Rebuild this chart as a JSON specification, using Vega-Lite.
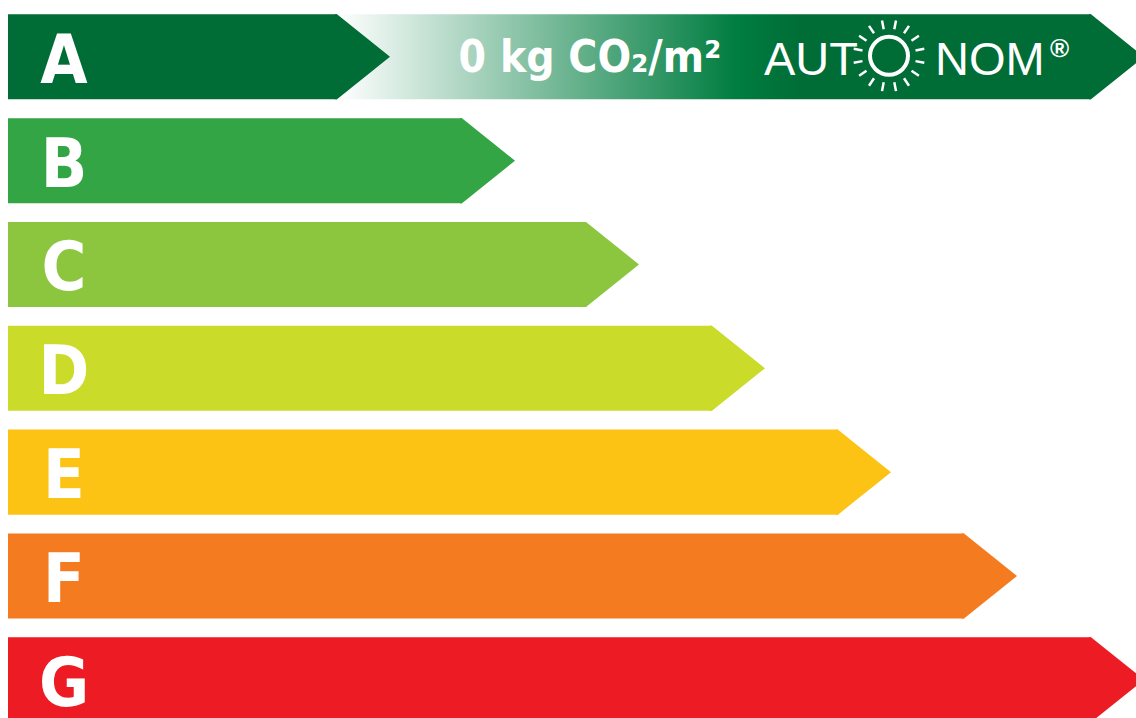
{
  "$schema": "https://vega.github.io/schema/vega-lite/v6.json",
  "width": 1136,
  "height": 718,
  "autosize": {"type": "none"},
  "padding": 0,
  "background": "white",
  "config": {"view": {"stroke": null}, "axis": {"disable": true}},
  "datasets": {
    "classes": [
      {"class": "A", "end": 329},
      {"class": "B", "end": 454},
      {"class": "C", "end": 578},
      {"class": "D", "end": 704},
      {"class": "E", "end": 830},
      {"class": "F", "end": 956},
      {"class": "G", "end": 1083}
    ],
    "autonom": [
      {"class": "A", "from": 329, "to": 1083, "co2": "0 kg CO₂/m²", "left": "AUT", "right": "NOM", "reg": "®"}
    ]
  },
  "encoding": {
    "y": {
      "field": "class",
      "type": "nominal",
      "scale": {"domain": ["A", "B", "C", "D", "E", "F", "G"], "range": [14.3, 722.3], "paddingInner": 0.181, "paddingOuter": 0},
      "axis": null
    }
  },
  "layer": [
    {
      "data": {"name": "autonom"},
      "mark": {
        "type": "bar",
        "fill": {
          "gradient": "linear", "x1": 0, "x2": 1, "y1": 0, "y2": 0,
          "stops": [
            {"offset": 0, "color": "#ffffff"},
            {"offset": 0.53, "color": "#007d40"},
            {"offset": 0.62, "color": "#006c36"},
            {"offset": 1, "color": "#006c36"}
          ]
        }
      },
      "encoding": {
        "x": {"field": "from", "type": "quantitative", "scale": {"domain": [-8, 1128], "nice": false, "zero": false}, "axis": null},
        "x2": {"field": "to"}
      }
    },
    {
      "data": {"name": "autonom"},
      "mark": {"type": "point", "shape": "M-0.05,-1L0,-1L1.247,0L0,1L-0.05,1Z", "size": 7225, "filled": true, "opacity": 1, "fill": "#006c36", "strokeWidth": 0},
      "encoding": {
        "x": {"field": "to", "type": "quantitative"}
      }
    },
    {
      "data": {"name": "classes"},
      "mark": {"type": "bar"},
      "encoding": {
        "x": {"field": "end", "type": "quantitative"},
        "x2": {"datum": 0},
        "color": {
          "field": "class", "type": "nominal",
          "scale": {"domain": ["A", "B", "C", "D", "E", "F", "G"], "range": ["#006c36", "#33a544", "#8cc63f", "#cbdb2a", "#fcc314", "#f47b20", "#ed1c24"]},
          "legend": null
        }
      }
    },
    {
      "data": {"name": "classes"},
      "mark": {"type": "point", "shape": "M-0.05,-1L0,-1L1.247,0L0,1L-0.05,1Z", "size": 7225, "filled": true, "opacity": 1, "strokeWidth": 0},
      "encoding": {
        "x": {"field": "end", "type": "quantitative"},
        "color": {"field": "class", "type": "nominal", "legend": null}
      }
    },
    {
      "data": {"name": "classes"},
      "mark": {"type": "text", "font": "DejaVu Sans Condensed", "fontWeight": "bold", "fontSize": 68, "fill": "white", "align": "center", "baseline": "alphabetic", "dy": 26},
      "encoding": {
        "x": {"datum": 56, "type": "quantitative"},
        "text": {"field": "class"}
      }
    },
    {
      "data": {"name": "autonom"},
      "mark": {"type": "text", "font": "DejaVu Sans Condensed", "fontWeight": "bold", "fontSize": 44, "fill": "white", "align": "center", "baseline": "alphabetic", "dy": 15},
      "encoding": {
        "x": {"datum": 582, "type": "quantitative"},
        "text": {"field": "co2"}
      }
    },
    {
      "data": {"name": "autonom"},
      "mark": {"type": "text", "font": "Liberation Sans", "fontSize": 47, "fill": "white", "align": "right", "baseline": "alphabetic", "dy": 18},
      "encoding": {
        "x": {"datum": 850, "type": "quantitative"},
        "text": {"field": "left"}
      }
    },
    {
      "data": {"name": "autonom"},
      "mark": {"type": "text", "font": "Liberation Sans", "fontSize": 47, "fill": "white", "align": "left", "baseline": "alphabetic", "dy": 18},
      "encoding": {
        "x": {"datum": 927, "type": "quantitative"},
        "text": {"field": "right"}
      }
    },
    {
      "data": {"name": "autonom"},
      "mark": {"type": "text", "font": "Liberation Sans", "fontWeight": "bold", "fontSize": 26, "fill": "white", "align": "left", "baseline": "alphabetic", "dy": 0},
      "encoding": {
        "x": {"datum": 1042, "type": "quantitative"},
        "text": {"field": "reg"}
      }
    },
    {
      "data": {"name": "autonom"},
      "mark": {"type": "point", "shape": "circle", "size": 1444, "filled": false, "opacity": 1, "stroke": "white", "strokeWidth": 4, "yOffset": -1},
      "encoding": {
        "x": {"datum": 881, "type": "quantitative"}
      }
    },
    {
      "data": {"name": "autonom"},
      "mark": {
        "type": "point",
        "shape": "M26.5,5.3L35.3,7.0M22.5,15.0L29.9,20.0M15.0,22.5L20.0,29.9M5.3,26.5L7.0,35.3M26.5,-5.3L35.3,-7.0M22.5,-15.0L29.9,-20.0M15.0,-22.5L20.0,-29.9M5.3,-26.5L7.0,-35.3M-26.5,5.3L-35.3,7.0M-22.5,15.0L-29.9,20.0M-15.0,22.5L-20.0,29.9M-5.3,26.5L-7.0,35.3M-26.5,-5.3L-35.3,-7.0M-22.5,-15.0L-29.9,-20.0M-15.0,-22.5L-20.0,-29.9M-5.3,-26.5L-7.0,-35.3",
        "size": 4, "filled": false, "opacity": 1, "stroke": "white", "strokeWidth": 2.5, "yOffset": -1
      },
      "encoding": {
        "x": {"datum": 881, "type": "quantitative"}
      }
    }
  ]
}
